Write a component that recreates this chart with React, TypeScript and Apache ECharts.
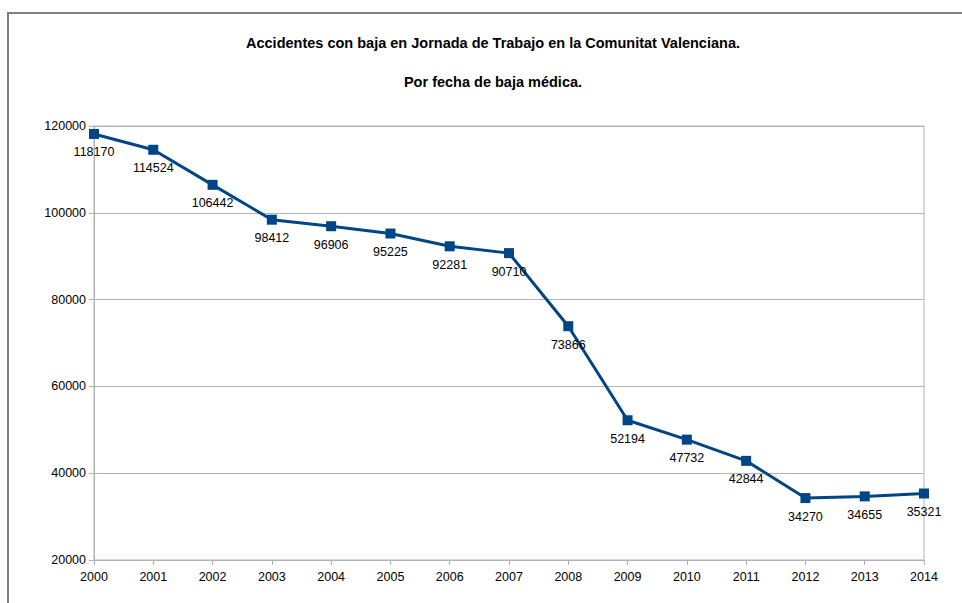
import React, { useEffect, useRef } from "react";
import * as echarts from "echarts";

const years = ["2000","2001","2002","2003","2004","2005","2006","2007","2008","2009","2010","2011","2012","2013","2014"];
const accidents = [118170,114524,106442,98412,96906,95225,92281,90710,73866,52194,47732,42844,34270,34655,35321];
const titleLine1 = "Accidentes con baja en Jornada de Trabajo en la Comunitat Valenciana.";
const titleLine2 = "Por fecha de baja médica.";

export default function App() {
  const ref = useRef<HTMLDivElement>(null);
  useEffect(() => {
    if (!ref.current) return;
    const chart = echarts.init(ref.current, null, { renderer: "svg" });
    const font = "'Liberation Sans', Arial, sans-serif";
    chart.setOption({
      animation: false,
      backgroundColor: "#ffffff",
      textStyle: { fontFamily: font },
      graphic: [
        { type: "rect", shape: { x: 8, y: 13, width: 1100, height: 800 }, style: { fill: "none", stroke: "#808080", lineWidth: 2 }, silent: true },
        { type: "text", x: 493, y: 43, style: { text: titleLine1, font: `bold 14.5px ${font}`, fill: "#000", textAlign: "center", textVerticalAlign: "middle" } },
        { type: "text", x: 493, y: 82, style: { text: titleLine2, font: `bold 14.5px ${font}`, fill: "#000", textAlign: "center", textVerticalAlign: "middle" } },
      ],
      grid: { left: 94, right: 38, top: 126, bottom: 43, show: true, borderColor: "#b3b3b3", borderWidth: 1 },
      xAxis: {
        type: "category",
        data: years,
        boundaryGap: false,
        axisLine: { lineStyle: { color: "#b3b3b3" } },
        axisTick: { show: true, length: 5, lineStyle: { color: "#b3b3b3" } },
        axisLabel: { color: "#000", fontSize: 12.5, margin: 10, fontFamily: font },
        splitLine: { show: false },
      },
      yAxis: {
        type: "value",
        min: 20000,
        max: 120000,
        interval: 20000,
        axisLine: { show: true, lineStyle: { color: "#b3b3b3" } },
        axisTick: { show: true, length: 5, lineStyle: { color: "#b3b3b3" } },
        axisLabel: { color: "#000", fontSize: 12.5, margin: 8, fontFamily: font, formatter: (v: number) => String(v) },
        splitLine: { show: true, lineStyle: { color: "#b3b3b3" } },
      },
      series: [
        {
          type: "line",
          data: accidents,
          symbol: "rect",
          symbolSize: 10,
          lineStyle: { color: "#004586", width: 3 },
          itemStyle: { color: "#004586" },
          label: { show: true, position: "bottom", distance: 7, color: "#000", fontSize: 12.5, fontFamily: font },
        },
      ],
    });
    return () => chart.dispose();
  }, []);
  return <div ref={ref} style={{ position: "fixed", left: 0, top: 0, width: 962, height: 603 }} />;
}
